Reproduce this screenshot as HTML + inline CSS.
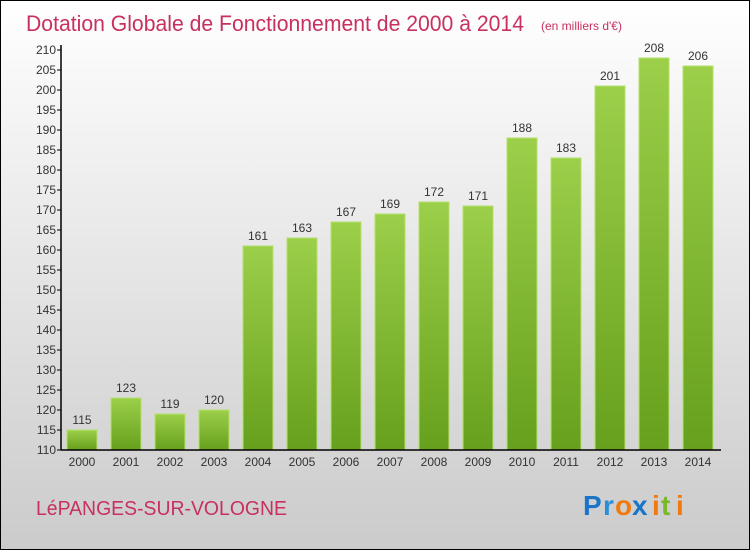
<!DOCTYPE html>
<html><head><meta charset="utf-8"><style>
html,body{margin:0;padding:0;}
body{width:750px;height:550px;overflow:hidden;font-family:"Liberation Sans",sans-serif;}
</style></head><body>
<svg width="750" height="550" viewBox="0 0 750 550" xmlns="http://www.w3.org/2000/svg">
<defs>
<linearGradient id="bg" x1="0" y1="0" x2="0" y2="1"><stop offset="0" stop-color="#ffffff"/><stop offset="1" stop-color="#cbcbcb"/></linearGradient>
<linearGradient id="bar" x1="0" y1="0" x2="0" y2="1"><stop offset="0" stop-color="#9ccf4a"/><stop offset="1" stop-color="#66a01c"/></linearGradient>
</defs>
<rect x="0.5" y="0.5" width="749" height="549" fill="url(#bg)" stroke="#000"/>
<text x="26" y="31" font-size="22" fill="#c8305f" textLength="498" lengthAdjust="spacingAndGlyphs">Dotation Globale de Fonctionnement de 2000 à 2014</text>
<text x="541" y="30" font-size="12" fill="#c8305f">(en milliers d'€)</text>
<g id="plot"></g>
<text x="36" y="515" font-size="20" fill="#c8305f" textLength="251" lengthAdjust="spacingAndGlyphs">LéPANGES-SUR-VOLOGNE</text>
<g font-size="28" font-weight="bold" font-family="'Liberation Sans',sans-serif">
<text x="583" y="515" fill="#1a75c9">P</text><text x="603" y="515" fill="#2a8fd8">r</text><text x="615" y="515" fill="#f07a10">o</text><text x="632" y="515" fill="#1a75c9">x</text><text x="652" y="515" fill="#f07a10">i</text><text x="661" y="515" fill="#7ab82a">t</text><text x="676" y="515" fill="#f07a10">i</text>
</g>
</svg>
<script>
const categories=["2000","2001","2002","2003","2004","2005","2006","2007","2008","2009","2010","2011","2012","2013","2014"];
const values=[115,123,119,120,161,163,167,169,172,171,188,183,201,208,206];
const yTicks=[110,115,120,125,130,135,140,145,150,155,160,165,170,175,180,185,190,195,200,205,210];
const NS="http://www.w3.org/2000/svg";
const g=document.getElementById('plot');
const x0=61,x1=721,yTop=50,yBot=450,vMin=110,vMax=210;
const band=(x1-x0)/categories.length;
const y=v=>yBot-(v-vMin)/(vMax-vMin)*(yBot-yTop);
const xb=i=>x0+i*band+6;
function mk(t,a){const e=document.createElementNS(NS,t);for(const k in a)e.setAttribute(k,a[k]);g.appendChild(e);return e;}
values.forEach((v,i)=>{
 const r=mk('rect',{x:xb(i),y:y(v),width:30,height:yBot-y(v),fill:'url(#bar)',stroke:'#b5e06a','stroke-width':1});
 
 
 const t=mk('text',{x:xb(i)+15,y:y(v)-6,'text-anchor':'middle','font-size':12,fill:'#333'});
 t.textContent=v;
 
 
 const c=mk('text',{x:xb(i)+15,y:yBot+16,'text-anchor':'middle','font-size':12,fill:'#333'});
 c.textContent=categories[i];
 
 
});
yTicks.forEach(v=>{
 const l=mk('line',{x1:x0-4,x2:x0,y1:y(v),y2:y(v),stroke:'#000'});
 
 
 const t=mk('text',{x:x0-5,y:y(v)+4,'text-anchor':'end','font-size':12,fill:'#333'});
 t.textContent=v;
 
 
});
const ya=mk('line',{x1:x0,x2:x0,y1:yTop-5,y2:yBot,stroke:'#000','stroke-width':1.5});


const xa=mk('line',{x1:x0,x2:x1,y1:yBot,y2:yBot,stroke:'#000','stroke-width':1.5});


</script>
</body></html>
